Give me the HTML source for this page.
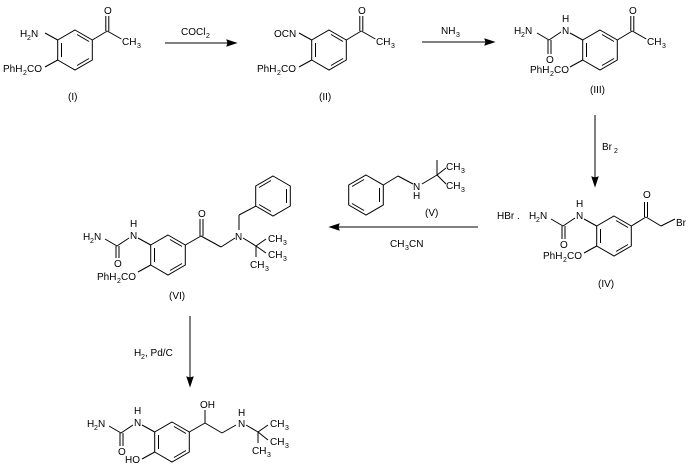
<!DOCTYPE html>
<html><head><meta charset="utf-8"><style>
html,body{margin:0;padding:0;background:#fff;}
svg{display:block;}
text{font-family:"Liberation Sans",sans-serif;font-size:10px;fill:#000;}
.s{font-size:7px;}
line,path,polyline{stroke:#000;stroke-width:1;fill:none;}
</style></head><body>
<svg width="699" height="475" viewBox="0 0 699 475" xmlns="http://www.w3.org/2000/svg">
<defs>
<g id="ring">
<path d="M0,-20 L17.3,-10 L17.3,10 L0,20 L-17.3,10 L-17.3,-10 Z"/>
<line x1="-13.5" y1="-7" x2="-13.5" y2="7"/>
<line x1="2" y1="-15.5" x2="14" y2="-8.5"/>
<line x1="14" y1="8.5" x2="2" y2="15.5"/>
</g>
<g id="benz">
<path d="M0,-20 L17.3,-10 L17.3,10 L0,20 L-17.3,10 L-17.3,-10 Z"/>
<line x1="13.5" y1="-7" x2="13.5" y2="7"/>
<line x1="-2" y1="-15.5" x2="-14" y2="-8.5"/>
<line x1="-14" y1="8.5" x2="-2" y2="15.5"/>
</g>
<g id="acetyl">
<line x1="0" y1="0" x2="15" y2="-9"/>
<line x1="13.5" y1="-9" x2="13.5" y2="-24"/><line x1="16.5" y1="-9" x2="16.5" y2="-24"/>
<line x1="15" y1="-9" x2="29" y2="-1"/>
</g>
</defs>

<!-- I -->
<use href="#ring" x="75" y="50"/>
<line x1="57.7" y1="40" x2="45" y2="33"/>
<text x="20" y="37">H</text><text class="s" x="27" y="40">2</text><text x="31" y="37">N</text>
<use href="#acetyl" x="92.3" y="40"/>
<text x="104" y="14">O</text>
<text x="122" y="45">CH</text><text class="s" x="137" y="48">3</text>
<line x1="57.7" y1="60" x2="45" y2="67"/>
<text x="3" y="72">PhH</text><text class="s" x="23" y="75">2</text><text x="27" y="72">CO</text>
<text x="68" y="100">(I)</text>

<!-- arrow 1 -->
<line x1="165" y1="43" x2="232" y2="43"/>
<path d="M236,43 L227,40 L228,43 L227,46 Z" style="fill:#000"/>
<text x="181" y="35">COCl</text><text class="s" x="206" y="38">2</text>

<!-- II -->
<use href="#ring" x="329" y="50"/>
<line x1="311.7" y1="40" x2="299" y2="33"/>
<text x="274" y="37">OCN</text>
<use href="#acetyl" x="346.3" y="40"/>
<text x="358" y="14">O</text>
<text x="376" y="45">CH</text><text class="s" x="391" y="48">3</text>
<line x1="311.7" y1="60" x2="299" y2="67"/>
<text x="257" y="72">PhH</text><text class="s" x="277" y="75">2</text><text x="281" y="72">CO</text>
<text x="319" y="100">(II)</text>

<!-- arrow 2 -->
<line x1="422" y1="42" x2="490" y2="42"/>
<path d="M494,42 L485,39 L486,42 L485,45 Z" style="fill:#000"/>
<text x="441" y="34">NH</text><text class="s" x="456" y="37">3</text>

<!-- III -->
<use href="#ring" x="600" y="50"/>
<line x1="582.7" y1="40" x2="570" y2="33"/>
<text x="562" y="22">H</text><text x="562" y="34">N</text>
<line x1="561" y1="32" x2="549" y2="40"/>
<line x1="549" y1="40" x2="537" y2="33"/>
<line x1="548" y1="40" x2="548" y2="54"/><line x1="551" y1="40" x2="551" y2="54"/>
<text x="546" y="63">O</text>
<text x="514" y="34">H</text><text class="s" x="521" y="37">2</text><text x="525" y="34">N</text>
<use href="#acetyl" x="617.3" y="40"/>
<text x="629" y="14">O</text>
<text x="647" y="45">CH</text><text class="s" x="662" y="48">3</text>
<line x1="582.7" y1="60" x2="570" y2="67"/>
<text x="530" y="73">PhH</text><text class="s" x="550" y="76">2</text><text x="554" y="73">CO</text>
<text x="590" y="93">(III)</text>

<!-- arrow down Br2 -->
<line x1="595" y1="115" x2="595" y2="182"/>
<path d="M595,186 L592,177 L595,178 L598,177 Z" style="fill:#000"/>
<text x="602" y="150">Br</text><text class="s" x="614" y="153">2</text>

<!-- IV -->
<use href="#ring" x="614" y="236"/>
<line x1="596.7" y1="226" x2="584" y2="219"/>
<text x="576" y="207">H</text><text x="576" y="219">N</text>
<line x1="575" y1="218" x2="563" y2="226"/>
<line x1="563" y1="226" x2="551" y2="219"/>
<line x1="562" y1="226" x2="562" y2="239"/><line x1="565" y1="226" x2="565" y2="239"/>
<text x="560" y="248">O</text>
<text x="497" y="219">HBr .</text>
<text x="529" y="219">H</text><text class="s" x="536" y="222">2</text><text x="540" y="219">N</text>
<line x1="596.7" y1="246" x2="584" y2="253"/>
<text x="543" y="259">PhH</text><text class="s" x="563" y="262">2</text><text x="567" y="259">CO</text>
<line x1="631.3" y1="226" x2="646" y2="217"/>
<line x1="644.5" y1="217" x2="644.5" y2="202"/><line x1="647.5" y1="217" x2="647.5" y2="202"/>
<text x="643" y="198">O</text>
<line x1="646" y1="217" x2="661" y2="226"/>
<line x1="661" y1="226" x2="675" y2="219"/>
<text x="676" y="226">Br</text>
<text x="598" y="287">(IV)</text>

<!-- arrow 3 -->
<line x1="334" y1="227" x2="478" y2="227"/>
<path d="M330,227 L339,224 L338,227 L339,230 Z" style="fill:#000"/>
<text x="390" y="247">CH</text><text class="s" x="405" y="250">3</text><text x="409" y="247">CN</text>

<!-- V -->
<use href="#benz" x="366" y="195"/>
<line x1="383.3" y1="185" x2="398" y2="176"/>
<line x1="398" y1="176" x2="413" y2="184"/>
<text x="413" y="190">N</text><text x="413" y="199">H</text>
<line x1="422" y1="184" x2="437" y2="175"/>
<line x1="437" y1="175" x2="437" y2="160"/>
<line x1="437" y1="175" x2="446" y2="168"/>
<line x1="437" y1="175" x2="446" y2="184"/>
<text x="446" y="170">CH</text><text class="s" x="461" y="173">3</text>
<text x="446" y="189">CH</text><text class="s" x="461" y="192">3</text>
<text x="425" y="216">(V)</text>

<!-- VI -->
<use href="#ring" x="168" y="255"/>
<line x1="150.7" y1="245" x2="138" y2="238"/>
<text x="130" y="227">H</text><text x="130" y="239">N</text>
<line x1="129" y1="238" x2="117" y2="246"/>
<line x1="117" y1="246" x2="105" y2="239"/>
<line x1="116" y1="246" x2="116" y2="258"/><line x1="119" y1="246" x2="119" y2="258"/>
<text x="114" y="267">O</text>
<text x="83" y="240">H</text><text class="s" x="90" y="243">2</text><text x="94" y="240">N</text>
<line x1="150.7" y1="265" x2="138" y2="272"/>
<text x="97" y="280">PhH</text><text class="s" x="117" y="283">2</text><text x="121" y="280">CO</text>
<line x1="185.3" y1="245" x2="201" y2="236"/>
<line x1="200" y1="236" x2="200" y2="219"/><line x1="203" y1="236" x2="203" y2="219"/>
<text x="198" y="217">O</text>
<line x1="201" y1="236" x2="221" y2="247"/>
<line x1="221" y1="247" x2="235" y2="238"/>
<text x="235" y="240">N</text>
<line x1="239" y1="230" x2="239" y2="215"/>
<line x1="239" y1="215" x2="256" y2="206"/>
<use href="#benz" x="273" y="196"/>
<line x1="243" y1="238" x2="256" y2="246"/>
<line x1="256" y1="246" x2="266" y2="239"/>
<line x1="256" y1="246" x2="266" y2="253"/>
<line x1="256" y1="246" x2="256" y2="257"/>
<text x="268" y="242">CH</text><text class="s" x="283" y="245">3</text>
<text x="268" y="258">CH</text><text class="s" x="283" y="261">3</text>
<text x="250" y="268">CH</text><text class="s" x="265" y="271">3</text>
<text x="169" y="299">(VI)</text>

<!-- arrow down H2 -->
<line x1="190" y1="316" x2="190" y2="382"/>
<path d="M190,386 L187,377 L190,378 L193,377 Z" style="fill:#000"/>
<text x="134" y="356">H</text><text class="s" x="141" y="359">2</text><text x="145" y="356">, Pd/C</text>

<!-- final -->
<use href="#ring" x="172" y="442"/>
<line x1="154.7" y1="432" x2="142" y2="425"/>
<text x="134" y="414">H</text><text x="134" y="426">N</text>
<line x1="133" y1="425" x2="121" y2="433"/>
<line x1="121" y1="433" x2="109" y2="426"/>
<line x1="120" y1="433" x2="120" y2="446"/><line x1="123" y1="433" x2="123" y2="446"/>
<text x="118" y="455">O</text>
<text x="87" y="427">H</text><text class="s" x="94" y="430">2</text><text x="98" y="427">N</text>
<line x1="154.7" y1="452" x2="142" y2="459"/>
<text x="125" y="463">HO</text>
<line x1="189.3" y1="432" x2="205" y2="423"/>
<line x1="205" y1="423" x2="205" y2="410"/>
<text x="200" y="408">OH</text>
<line x1="205" y1="423" x2="222" y2="433"/>
<line x1="222" y1="433" x2="236" y2="425"/>
<text x="238" y="416">H</text><text x="238" y="427">N</text>
<line x1="246" y1="425" x2="258" y2="432"/>
<line x1="258" y1="432" x2="268" y2="425"/>
<line x1="258" y1="432" x2="268" y2="440"/>
<line x1="258" y1="432" x2="258" y2="443"/>
<text x="270" y="427">CH</text><text class="s" x="285" y="430">3</text>
<text x="270" y="445">CH</text><text class="s" x="285" y="448">3</text>
<text x="252" y="454">CH</text><text class="s" x="267" y="457">3</text>
</svg>
</body></html>
